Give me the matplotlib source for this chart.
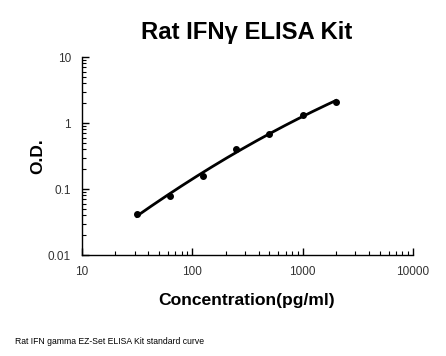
import numpy as np
import matplotlib
matplotlib.use("Agg")
import matplotlib.pyplot as plt
from matplotlib.ticker import LogLocator, FixedLocator, NullFormatter

conc = [31.25, 62.5, 125, 250, 500, 1000, 2000]
od = [0.042, 0.078, 0.157, 0.41, 0.69, 1.32, 2.08]
xticks = [10, 100, 1000, 10000]
xticklabels = ["10", "100", "1000", "10000"]
yticks = [0.01, 0.1, 1, 10]
yticklabels = ["0.01", "0.1", "1", "10"]

plt.rcParams['font.family'] = ['Liberation Sans', 'DejaVu Sans']

fig = plt.figure(figsize=(4.46, 3.56), dpi=100)
W, H = 446, 356
ax = fig.add_axes([82 / W, 1 - 255 / H, (413 - 82) / W, (255 - 57) / H])

lx = np.log10(conc)
ly = np.log10(od)
coef = np.polyfit(lx, ly, 2)
xs = np.linspace(lx[0], lx[-1], 200)
ax.plot(10 ** xs, 10 ** np.polyval(coef, xs), color='black', lw=2)
ax.plot(conc, od, 'o', color='black', ms=4)

ax.set_xscale('log')
ax.set_yscale('log')
ax.set_xlim(10, 10000)
ax.set_ylim(0.01, 10)
ax.xaxis.set_major_locator(FixedLocator(xticks))
ax.set_xticklabels(xticklabels)
ax.yaxis.set_major_locator(FixedLocator(yticks))
ax.set_yticklabels(yticklabels)
ax.xaxis.set_minor_locator(LogLocator(base=10, subs=np.arange(2, 10)))
ax.yaxis.set_minor_locator(LogLocator(base=10, subs=np.arange(2, 10)))
ax.xaxis.set_minor_formatter(NullFormatter())
ax.yaxis.set_minor_formatter(NullFormatter())
for s in ['top', 'right']:
    ax.spines[s].set_visible(False)
for s in ['left', 'bottom']:
    ax.spines[s].set_linewidth(1.0)
ax.tick_params(which='major', direction='in', length=5, width=1, labelsize=8.5,
               labelcolor='#333333', pad=8)
ax.tick_params(which='minor', direction='in', length=3, width=0.8)

fig.text(247 / W, 1 - 33 / H, "Rat IFNγ ELISA Kit", ha='center', va='center',
         fontsize=17.2, fontweight='bold')
fig.text(38 / W, 1 - 156 / H, "O.D.", ha='center', va='center', rotation=90,
         fontsize=12.5, fontweight='bold')
fig.text(247 / W, 1 - 301 / H, "Concentration(pg/ml)", ha='center', va='center',
         fontsize=12.6, fontweight='bold')
fig.text(15 / W, 1 - 341 / H, "Rat IFN gamma EZ-Set ELISA Kit standard curve",
         ha='left', va='center', fontsize=6.2)

fig.savefig("out.png", dpi=100)
